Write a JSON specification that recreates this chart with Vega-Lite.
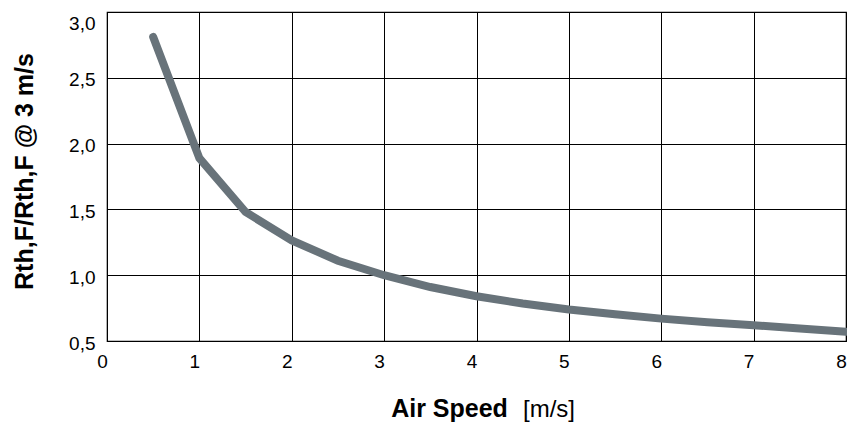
{
  "$schema": "https://vega.github.io/schema/vega-lite/v6.json",
  "width": 739,
  "height": 329,
  "autosize": "none",
  "padding": {"left": 107, "top": 12, "right": 1, "bottom": 87},
  "background": "white",
  "config": {
    "font": "Liberation Sans",
    "view": {"stroke": "black", "strokeWidth": 1.2}
  },
  "title": {
    "text": "[m/s]",
    "orient": "bottom",
    "anchor": "start",
    "frame": "group",
    "dx": 416,
    "offset": -23,
    "fontSize": 24,
    "fontWeight": "normal",
    "font": "Liberation Sans",
    "color": "black",
    "baseline": "top"
  },
  "data": {
    "values": [
      {"speed": 0.5, "ratio": 2.81},
      {"speed": 1.0, "ratio": 1.89},
      {"speed": 1.5, "ratio": 1.48},
      {"speed": 2.0, "ratio": 1.265},
      {"speed": 2.5, "ratio": 1.11},
      {"speed": 3.0, "ratio": 1.0},
      {"speed": 3.5, "ratio": 0.91},
      {"speed": 4.0, "ratio": 0.84},
      {"speed": 4.5, "ratio": 0.785},
      {"speed": 5.0, "ratio": 0.74},
      {"speed": 5.5, "ratio": 0.703},
      {"speed": 6.0, "ratio": 0.67},
      {"speed": 6.5, "ratio": 0.643},
      {"speed": 7.0, "ratio": 0.62},
      {"speed": 7.5, "ratio": 0.595},
      {"speed": 8.0, "ratio": 0.57}
    ]
  },
  "mark": {"type": "line", "color": "#68737a", "strokeWidth": 8, "strokeCap": "round", "strokeJoin": "miter"},
  "encoding": {
    "x": {
      "field": "speed",
      "type": "quantitative",
      "scale": {"domain": [0, 8], "nice": false, "zero": false},
      "axis": {
        "values": [0, 1, 2, 3, 4, 5, 6, 7, 8],
        "grid": true,
        "gridColor": "black",
        "gridOpacity": 1,
        "gridWidth": 1,
        "domain": false,
        "ticks": false,
        "labelFontSize": 19,
        "labelColor": "black",
        "labelPadding": 11,
        "labelOffset": -5,
        "labelFlush": false,
        "labelBaseline": "top",
        "title": "Air Speed",
        "titleFontSize": 25,
        "titleFontWeight": "bold",
        "titleColor": "black",
        "titleX": 342,
        "titleY": 75,
        "titleAlign": "center",
        "titleBaseline": "alphabetic"
      }
    },
    "y": {
      "field": "ratio",
      "type": "quantitative",
      "scale": {"domain": [0.5, 3.0], "nice": false, "zero": false},
      "axis": {
        "values": [0.5, 1.0, 1.5, 2.0, 2.5, 3.0],
        "labelExpr": "replace(format(datum.value, '.1f'), '.', ',')",
        "grid": true,
        "gridColor": "black",
        "gridOpacity": 1,
        "gridWidth": 1,
        "domain": false,
        "ticks": false,
        "labelFontSize": 19,
        "labelColor": "black",
        "labelPadding": 12,
        "labelOffset": 2,
        "labelFlush": false,
        "labelBaseline": {"condition": {"test": "datum.value == 3", "value": "top"}, "value": "middle"},
        "title": "Rth,F/Rth,F @ 3 m/s",
        "titleFontSize": 25,
        "titleFontWeight": "bold",
        "titleColor": "black",
        "titleAngle": -90,
        "titleX": -83,
        "titleY": 159,
        "titleAlign": "center",
        "titleBaseline": "middle"
      }
    }
  }
}
